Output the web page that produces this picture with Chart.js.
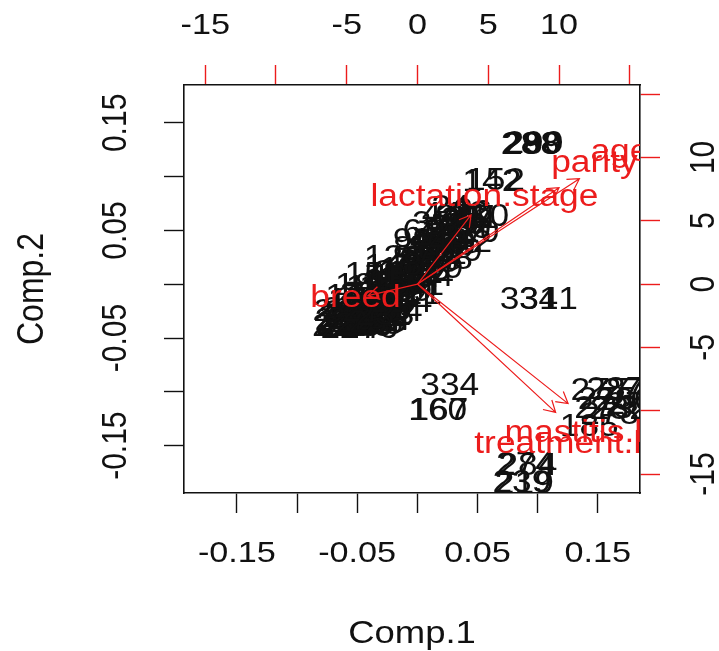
<!DOCTYPE html>
<html>
<head>
<meta charset="utf-8">
<title>Biplot Comp.1 / Comp.2</title>
<script src="https://cdn.jsdelivr.net/npm/chart.js@4.4.1/dist/chart.umd.min.js"></script>
<style>
    html, body { margin: 0; padding: 0; background: #fff; }
    canvas { display: block; }
</style>
</head>
<body>
<canvas id="biplotChart" width="719" height="651"></canvas>
<script>
// ================================
// Data
// ================================
// observation scores (bottom / left axes)
const obsLabels = [
    "212", "215", "23", "230", "257", "208", "261", "218", "225", "263",
    "31", "266", "227", "221", "170", "251", "236", "191", "220", "244",
    "176", "181", "200", "182", "36", "162", "197", "21", "174", "134",
    "139", "26", "118", "107", "5", "3", "105", "112", "94", "39",
    "81", "88", "73", "47", "76", "62", "55", "45", "60", "58",
    "71", "43", "51", "49", "66", "41", "38", "52", "57", "27",
    "33", "29", "30", "2", "12", "17", "11", "10", "152", "142",
    // upper-left edge of the band
    "246", "172", "189", "150", "14", "126", "8", "99", "63", "35", "44", "24",
    // lower-right edge of the band
    "240", "204", "184", "144", "121", "91", "84", "69", "68", "59", "42", "20",
    // extra in the dense lower-left end
    "229", "252", "213", "232", "242", "258", "194", "211", "224",
    "248", "217", "238", "203", "226", "255", "233",
    // extra in the middle
    "147", "130", "101", "96", "79", "65", "53", "46", "25", "16",
    "158", "115", "87", "70", "48", "37",
    // outlying groups
    "288", "298", "289", "290", "331", "341", "334", "160", "167",
    "277", "287", "276", "275", "280", "273", "282", "279", "278", "185",
    "284", "274", "239", "219"
];
const obsX = [
    -0.060, -0.055, -0.050, -0.045, -0.058, -0.052, -0.047, -0.041, -0.036, -0.055,
    -0.049, -0.043, -0.038, -0.033, -0.050, -0.044, -0.039, -0.034, -0.029, -0.040,
    -0.035, -0.030, -0.025, -0.035, -0.030, -0.025, -0.020, -0.028, -0.022, -0.017,
    -0.012, -0.020, -0.015, -0.010, -0.005, -0.012, -0.007, -0.002, 0.003, -0.004,
    0.001, 0.006, 0.011, 0.003, 0.008, 0.013, 0.018, 0.010, 0.015, 0.020,
    0.025, 0.017, 0.022, 0.027, 0.032, 0.024, 0.029, 0.034, 0.039, 0.031,
    0.036, 0.041, 0.045, 0.038, 0.043, 0.048, 0.053, 0.060, 0.065, 0.062,
    -0.062, -0.052, -0.044, -0.036, -0.028, -0.020, -0.012, -0.004, 0.004, 0.012, 0.020, 0.028,
    -0.040, -0.030, -0.020, -0.012, -0.004, 0.006, 0.014, 0.022, 0.030, 0.038, 0.046, 0.052,
    -0.063, -0.057, -0.048, -0.042, -0.053, -0.046, -0.040, -0.035, -0.030,
    -0.061, -0.056, -0.051, -0.044, -0.038, -0.033, -0.027,
    -0.024, -0.018, -0.008, 0.000, 0.008, 0.016, 0.024, 0.032, 0.040, 0.046,
    -0.016, -0.006, 0.004, 0.014, 0.026, 0.035,
    0.094, 0.095, 0.096, 0.097, 0.093, 0.109, 0.027, 0.017, 0.018,
    0.152, 0.165, 0.178, 0.158, 0.172, 0.155, 0.168, 0.181, 0.160, 0.143,
    0.092, 0.090, 0.087, 0.089
];
const obsY = [
    -0.038, -0.040, -0.039, -0.040, -0.032, -0.030, -0.033, -0.036, -0.038, -0.024,
    -0.022, -0.027, -0.030, -0.031, -0.016, -0.015, -0.020, -0.023, -0.025, -0.010,
    -0.012, -0.016, -0.018, -0.004, -0.006, -0.009, -0.012, 0.002, 0.000, -0.004,
    -0.008, 0.010, 0.006, 0.003, 0.000, 0.017, 0.013, 0.009, 0.005, 0.024,
    0.020, 0.016, 0.012, 0.032, 0.028, 0.024, 0.019, 0.040, 0.036, 0.032,
    0.027, 0.048, 0.044, 0.040, 0.035, 0.055, 0.052, 0.048, 0.043, 0.062,
    0.059, 0.055, 0.051, 0.068, 0.065, 0.061, 0.060, 0.062, 0.096, 0.095,
    -0.026, -0.012, -0.002, 0.008, 0.016, 0.024, 0.032, 0.040, 0.048, 0.056, 0.064, 0.070,
    -0.042, -0.035, -0.026, -0.018, -0.010, -0.002, 0.006, 0.014, 0.022, 0.030, 0.038, 0.047,
    -0.040, -0.036, -0.036, -0.031, -0.027, -0.025, -0.022, -0.028, -0.034,
    -0.035, -0.042, -0.034, -0.038, -0.026, -0.036, -0.030,
    -0.004, 0.004, 0.010, 0.014, 0.022, 0.030, 0.036, 0.044, 0.060, 0.066,
    -0.001, 0.006, 0.017, 0.026, 0.038, 0.054,
    0.129, 0.129, 0.129, 0.130, -0.015, -0.015, -0.095, -0.118, -0.118,
    -0.100, -0.099, -0.100, -0.108, -0.109, -0.116, -0.117, -0.113, -0.122, -0.133,
    -0.169, -0.168, -0.185, -0.186
];

// variable loadings (top / right axes), arrows go to 0.8 of these
const varNames = ["lactation.stage", "parity", "age", "breed", "mastitis.level", "treatment.level"];
const varX = [4.73, 12.5, 14.3, -4.38, 13.3, 12.2];
const varY = [6.83, 9.51, 10.4, -1.14, -11.8, -12.67];

// axis ticks
const scoreTicks = [-0.15, -0.10, -0.05, 0, 0.05, 0.10, 0.15];
const scoreTickLabels = [-0.15, -0.05, 0.05, 0.15];
const loadTicks = [-15, -10, -5, 0, 5, 10, 15];
const loadTickLabels = [-15, -5, 0, 5, 10];

const RED = "#ec1c1c";
const FONT = '"Liberation Sans", Arial, sans-serif';
const STRETCH = 1.14; // the picture is a bit wider than tall

// ================================
// Helpers
// ================================
function drawText(ctx, text, x, y, vertical) {
    ctx.save();
    ctx.translate(x, y);
    ctx.scale(STRETCH, 1);
    if (vertical) ctx.rotate(-Math.PI / 2);
    ctx.fillText(text, 0, 0);
    ctx.restore();
}

function drawArrow(ctx, x0, y0, x1, y1) {
    const len = 13;
    const ang = Math.atan2(y1 - y0, x1 - x0);
    ctx.beginPath();
    ctx.moveTo(x0, y0);
    ctx.lineTo(x1, y1);
    ctx.moveTo(x1 - len * Math.cos(ang - Math.PI / 6), y1 - len * Math.sin(ang - Math.PI / 6));
    ctx.lineTo(x1, y1);
    ctx.lineTo(x1 - len * Math.cos(ang + Math.PI / 6), y1 - len * Math.sin(ang + Math.PI / 6));
    ctx.stroke();
}

// ================================
// Text / arrow plugin
// ================================
const biplotPlugin = {
    id: "biplotPlugin",
    afterDatasetsDraw(chart) {
        const { ctx, chartArea: a, scales } = chart;
        const obsMeta = chart.getDatasetMeta(0);
        const varMeta = chart.getDatasetMeta(1);

        ctx.save();
        ctx.beginPath();
        ctx.rect(a.left, a.top, a.right - a.left, a.bottom - a.top);
        ctx.clip();

        // observation numbers
        ctx.font = "31px " + FONT;
        ctx.textAlign = "center";
        ctx.textBaseline = "middle";
        ctx.fillStyle = "#111";
        obsMeta.data.forEach((pt, i) => drawText(ctx, obsLabels[i], pt.x, pt.y, false));

        // arrows
        const x0 = scales.x2.getPixelForValue(0);
        const y0 = scales.y2.getPixelForValue(0);
        ctx.strokeStyle = RED;
        ctx.lineWidth = 1.2;
        varNames.forEach((n, i) => {
            const tx = scales.x2.getPixelForValue(varX[i] * 0.8);
            const ty = scales.y2.getPixelForValue(varY[i] * 0.8);
            drawArrow(ctx, x0, y0, tx, ty);
        });

        // variable names
        ctx.fillStyle = RED;
        varMeta.data.forEach((pt, i) => drawText(ctx, varNames[i], pt.x, pt.y, false));
        ctx.restore();

        // tick labels
        ctx.save();
        ctx.font = "30px " + FONT;
        ctx.textAlign = "center";
        ctx.textBaseline = "middle";
        ctx.fillStyle = "#111";
        scoreTickLabels.forEach(v => drawText(ctx, String(v), scales.x.getPixelForValue(v), 554, false));
        scoreTickLabels.forEach(v => drawText(ctx, String(v), 117, scales.y.getPixelForValue(v), true));
        loadTickLabels.forEach(v => drawText(ctx, String(v), scales.x2.getPixelForValue(v), 26, false));
        loadTickLabels.forEach(v => drawText(ctx, String(v), 705, scales.y2.getPixelForValue(v), true));

        // axis titles
        ctx.font = "32px " + FONT;
        drawText(ctx, "Comp.1", (a.left + a.right) / 2, 634, false);
        drawText(ctx, "Comp.2", 33, (a.top + a.bottom) / 2, true);
        ctx.restore();
    }
};

// ================================
// Chart
// ================================
function axis(position, min, max, ticks, color, size) {
    const horizontal = position === "top" || position === "bottom";
    return {
        type: "linear",
        position: position,
        min: min,
        max: max,
        afterBuildTicks: s => { s.ticks = ticks.map(v => ({ value: v })); },
        afterFit: s => { if (horizontal) s.height = size; else s.width = size; },
        ticks: { display: false },
        grid: {
            drawOnChartArea: false,
            drawTicks: true,
            tickLength: 20,
            tickColor: color,
            tickWidth: 1.4
        },
        border: { display: true, color: "#111", width: 1.6 }
    };
}

new Chart(document.getElementById("biplotChart"), {
    type: "scatter",
    data: {
        datasets: [
            {
                label: "observations",
                data: obsX.map((x, i) => ({ x: x, y: obsY[i] })),
                xAxisID: "x",
                yAxisID: "y",
                pointRadius: 0
            },
            {
                label: "variables",
                data: varX.map((x, i) => ({ x: x, y: varY[i] })),
                xAxisID: "x2",
                yAxisID: "y2",
                pointRadius: 0
            }
        ]
    },
    options: {
        responsive: false,
        animation: false,
        devicePixelRatio: 1,
        layout: { padding: 0 },
        plugins: {
            legend: { display: false },
            tooltip: { enabled: false }
        },
        scales: {
            x: axis("bottom", -0.194, 0.1852, scoreTicks, "#111", 158),
            y: axis("left", -0.194, 0.1852, scoreTicks, "#111", 184),
            x2: axis("top", -16.5, 15.72, loadTicks, RED, 85),
            y2: axis("right", -16.5, 15.72, loadTicks, RED, 79)
        }
    },
    plugins: [biplotPlugin]
});
</script>
</body>
</html>
